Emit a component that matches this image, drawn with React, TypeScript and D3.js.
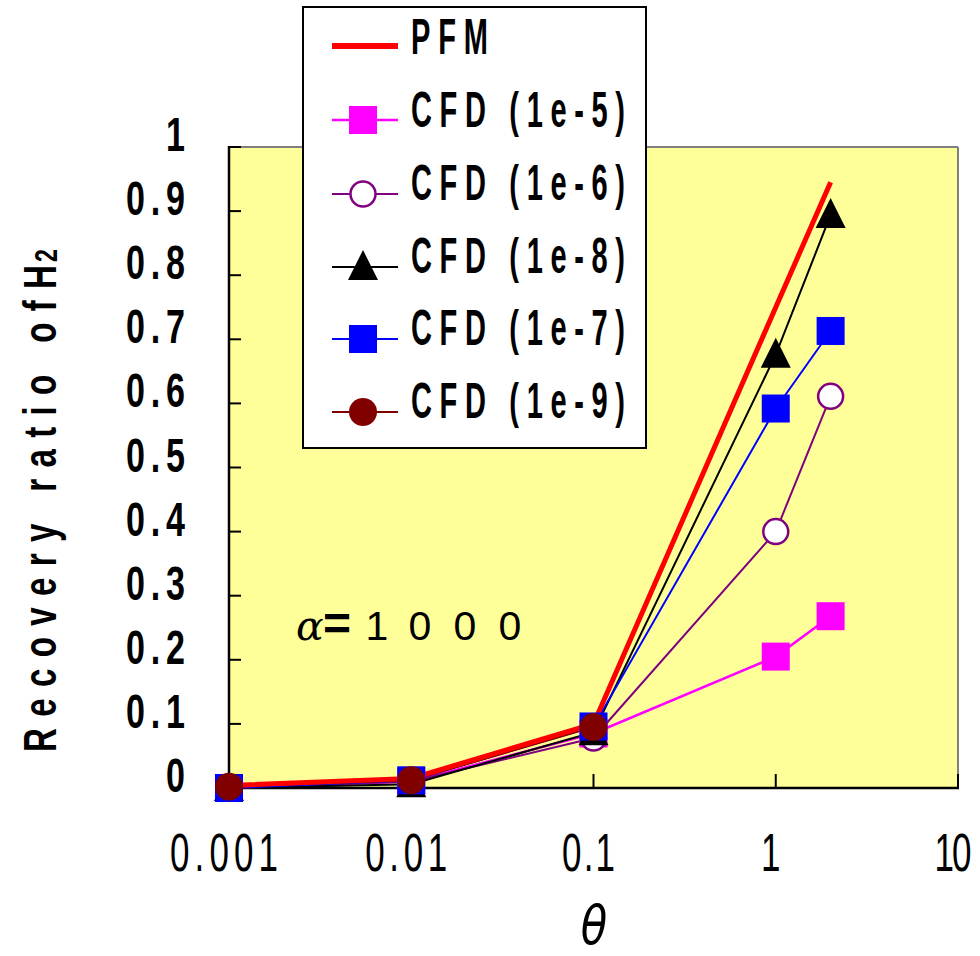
import React from "react";
import * as d3 from "d3";

const thetaValues = [0.001, 0.01, 0.1, 1, 2];
const pfmValues = [0.004, 0.015, 0.1, 0.75, 0.945];
const cfd1e5Values = [0.0, 0.01, 0.085, 0.205, 0.268];
const cfd1e6Values = [0.0, 0.01, 0.078, 0.4, 0.611];
const cfd1e8Values = [0.0, 0.006, 0.087, 0.676, 0.894];
const cfd1e7Values = [0.0, 0.012, 0.096, 0.592, 0.713];
const cfd1e9Values = [0.002, 0.012, 0.095];

const xTicks = [0.001, 0.01, 0.1, 1, 10];
const xTickLabels = ["0.001", "0.01", "0.1", "1", "10"];
const yTicks = [0, 0.1, 0.2, 0.3, 0.4, 0.5, 0.6, 0.7, 0.8, 0.9, 1];
const yTickLabels = ["0", "0.1", "0.2", "0.3", "0.4", "0.5", "0.6", "0.7", "0.8", "0.9", "1"];

const legendLabels = ["PFM", "CFD (1e-5)", "CFD (1e-6)", "CFD (1e-8)", "CFD (1e-7)", "CFD (1e-9)"];
const annotationDigits = ["1", "0", "0", "0"];

type Marker = "none" | "square" | "circle" | "openCircle" | "triangle";
interface Series {
  name: string;
  values: number[];
  color: string;
  width: number;
  marker: Marker;
}

const series: Series[] = [
  { name: legendLabels[0], values: pfmValues, color: "#FF0000", width: 5, marker: "none" },
  { name: legendLabels[1], values: cfd1e5Values, color: "#FF00FF", width: 2.5, marker: "square" },
  { name: legendLabels[2], values: cfd1e6Values, color: "#800080", width: 2, marker: "openCircle" },
  { name: legendLabels[3], values: cfd1e8Values, color: "#000000", width: 2, marker: "triangle" },
  { name: legendLabels[4], values: cfd1e7Values, color: "#0000FF", width: 2, marker: "square" },
  { name: legendLabels[5], values: cfd1e9Values, color: "#800000", width: 2, marker: "circle" },
];

const W = 980;
const H = 956;
const plotL = 229;
const plotR = 958;
const plotT = 147;
const plotB = 788;

const x = d3.scaleLog().domain([0.001, 10]).range([plotL, plotR]);
const y = d3.scaleLinear().domain([0, 1]).range([plotB, plotT]);

function MarkerShape({ type, cx, cy, color }: { type: Marker; cx: number; cy: number; color: string }) {
  if (type === "square") {
    return <rect x={cx - 14} y={cy - 14} width={28} height={28} fill={color} />;
  }
  if (type === "circle") {
    return <circle cx={cx} cy={cy} r={14} fill={color} />;
  }
  if (type === "openCircle") {
    return <circle cx={cx} cy={cy} r={12.5} fill="#FFFFFF" stroke={color} strokeWidth={2.5} />;
  }
  if (type === "triangle") {
    const p = `M${cx},${cy - 17} L${cx + 15},${cy + 13} L${cx - 15},${cy + 13} Z`;
    return <path d={p} fill={color} />;
  }
  return null;
}

function CondText({
  x0, y0, sx, width, anchor, size, weight, family, children, style,
}: {
  x0: number; y0: number; sx: number; width?: number; anchor?: string; size: number; weight?: string; family: string; children: React.ReactNode; style?: string;
}) {
  return (
    <text
      transform={`translate(${x0},${y0}) scale(${sx},1)`}
      textAnchor={anchor || "start"}
      fontSize={size}
      fontWeight={weight || "normal"}
      fontFamily={family}
      fontStyle={style || "normal"}
      textLength={width ? width / sx : undefined}
      lengthAdjust="spacing"
      fill="#000"
    >
      {children}
    </text>
  );
}

export default function App() {
  const line = d3
    .line<number>()
    .x((_, i) => x(thetaValues[i]))
    .y((v) => y(v));

  const sans = "'Liberation Sans', Arial, sans-serif";
  const cfdSeries = series.filter((s) => s.marker !== "none");
  const pfm = series[0];

  const legendRowsY = [46, 120, 194, 267, 339, 412];
  const legendBase = [54, 127, 200, 273, 345, 418];

  const xLabelWidths = [108, 82, 53, 0, 37];
  const digitX = [377, 420, 465, 510];

  return (
    <svg width={W} height={H} style={{ position: "absolute", left: 0, top: 0, background: "#fff" }}>
      <rect x={0} y={0} width={W} height={H} fill="#FFFFFF" />
      {/* plot area */}
      <rect x={plotL} y={plotT} width={plotR - plotL} height={plotB - plotT} fill="#FFFF99" />
      <line x1={plotL} y1={plotT} x2={plotR} y2={plotT} stroke="#808080" strokeWidth={2} />
      <line x1={plotR} y1={plotT} x2={plotR} y2={plotB} stroke="#808080" strokeWidth={2} />

      {/* y ticks (inward) */}
      {yTicks.map((t) => (
        <line key={"yt" + t} x1={plotL} x2={plotL + 12} y1={y(t)} y2={y(t)} stroke="#000" strokeWidth={2} />
      ))}
      {/* x ticks (inward) */}
      {xTicks.map((t) => (
        <line key={"xt" + t} x1={x(t)} x2={x(t)} y1={plotB} y2={plotB - 14} stroke="#000" strokeWidth={2} />
      ))}

      {/* axes */}
      <line x1={plotL} y1={plotT - 1} x2={plotL} y2={plotB + 1} stroke="#000" strokeWidth={2.5} />
      <line x1={plotL - 1} y1={plotB} x2={plotR + 1} y2={plotB} stroke="#000" strokeWidth={2.5} />

      {/* series lines */}
      {cfdSeries.map((s) => (
        <path key={"l" + s.name} d={line(s.values) || ""} fill="none" stroke={s.color} strokeWidth={s.width} />
      ))}
      <path d={line(pfm.values) || ""} fill="none" stroke={pfm.color} strokeWidth={pfm.width} />

      {/* markers */}
      {cfdSeries.map((s) =>
        s.values.map((v, i) => (
          <MarkerShape key={"m" + s.name + i} type={s.marker} cx={x(thetaValues[i])} cy={y(v)} color={s.color} />
        ))
      )}

      {/* y tick labels */}
      {yTicks.map((t, i) => (
        <CondText
          key={"yl" + t}
          x0={185}
          y0={y(t) + 4}
          sx={0.71}
          width={yTickLabels[i].length > 1 ? 59 : undefined}
          anchor="end"
          size={48}
          weight="bold"
          family={sans}
        >
          {yTickLabels[i]}
        </CondText>
      ))}

      {/* x tick labels */}
      {xTicks.map((t, i) => (
        <CondText
          key={"xl" + t}
          x0={x(t) - 5}
          y0={871}
          sx={0.66}
          width={xLabelWidths[i] || undefined}
          anchor="middle"
          size={53}
          family={sans}
        >
          {xTickLabels[i]}
        </CondText>
      ))}

      {/* axis titles */}
      <text
        transform={`translate(56,752) rotate(-90) scale(0.72,1)`}
        fontSize={46}
        fontWeight="bold"
        fontFamily={sans}
        textLength={487 / 0.72}
        lengthAdjust="spacing"
        fill="#000"
      >
        Recovery ratio ofH
      </text>
      <text
        transform={`translate(57,262) rotate(-90) scale(0.72,1)`}
        fontSize={32}
        fontWeight="bold"
        fontFamily={sans}
        fill="#000"
      >
        2
      </text>
      <CondText x0={594} y0={944} sx={0.8} anchor="middle" size={54} family="'DejaVu Sans', sans-serif" style="italic">
        θ
      </CondText>

      {/* annotation */}
      <text fontFamily={sans} fontSize={41} fill="#000">
        <tspan x={296} y={640} fontStyle="italic" fontFamily="'DejaVu Serif', serif">α</tspan>
        <tspan x={323} y={640} fontWeight="bold" fontSize={48}>=</tspan>
        {annotationDigits.map((d, i) => (
          <tspan key={"ad" + i} x={digitX[i]} y={640} textAnchor="middle">{d}</tspan>
        ))}
      </text>

      {/* legend */}
      <rect x={303} y={7} width={343} height={441} fill="#FFFFFF" stroke="#000" strokeWidth={2} />
      {series.map((s, i) => (
        <g key={"lg" + s.name}>
          <line x1={332} x2={398} y1={legendRowsY[i]} y2={legendRowsY[i]} stroke={s.color} strokeWidth={s.marker === "none" ? 6 : s.width} />
          <MarkerShape type={s.marker} cx={363} cy={legendRowsY[i]} color={s.color} />
          <CondText
            x0={411}
            y0={legendBase[i]}
            sx={0.58}
            width={i === 0 ? 77 : 214}
            size={50}
            weight="bold"
            family={sans}
          >
            {s.name}
          </CondText>
        </g>
      ))}
    </svg>
  );
}
